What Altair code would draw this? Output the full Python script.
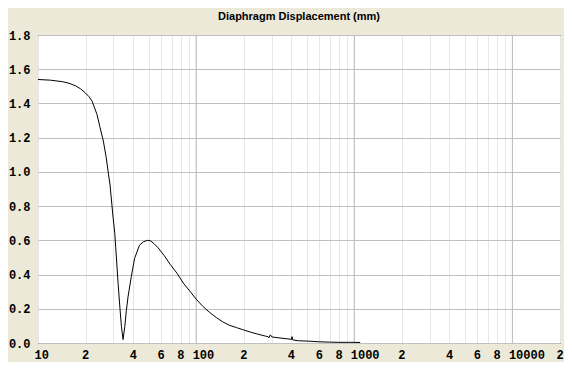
import altair as alt
import pandas as pd

# Frequency (Hz) and diaphragm displacement (mm)
freq = [10, 12, 14.3, 15.7, 17.3, 18.6, 19.9, 21.0, 22.0, 23.6, 24.7, 25.9, 27.0, 27.9, 28.5,
        29.9, 30.6, 31.0, 32.1, 33.0, 33.7, 34.5, 35.4, 36.2, 37.1, 38.9, 40.8,
        43.8, 46.5, 49.4, 51.5, 54.3, 57.5, 62.6, 68.5, 75.9, 83.0, 91.8, 101,
        110, 122, 135, 147, 162, 180, 197, 220, 245, 275, 285, 288, 295, 300,
        320, 349, 380, 400, 404, 408, 443, 510, 600, 700, 800, 950, 1090]
disp = [1.540, 1.536, 1.527, 1.518, 1.503, 1.485, 1.462, 1.440, 1.413, 1.336, 1.258, 1.180, 1.084, 0.987, 0.929,
        0.726, 0.640, 0.560, 0.348, 0.200, 0.097, 0.020, 0.097, 0.190, 0.270, 0.387, 0.494,
        0.571, 0.592, 0.600, 0.597, 0.580, 0.556, 0.513, 0.460, 0.406, 0.350, 0.300, 0.252,
        0.215, 0.178, 0.147, 0.124, 0.104, 0.090, 0.078, 0.064, 0.052, 0.040, 0.037, 0.030, 0.048, 0.036,
        0.032, 0.028, 0.024, 0.021, 0.037, 0.018, 0.013, 0.011, 0.007, 0.005, 0.004, 0.004, 0.003]

tick_values = [10, 20, 30, 40, 50, 60, 70, 80, 90,
               100, 200, 300, 400, 500, 600, 700, 800, 900,
               1000, 2000, 3000, 4000, 5000, 6000, 7000, 8000, 9000,
               10000, 20000]
tick_labels = ["10", "2", "", "4", "", "6", "", "8", "",
               "100", "2", "", "4", "", "6", "", "8", "",
               "1000", "2", "", "4", "", "6", "", "8", "",
               "10000", "2"]
decades = [100, 1000, 10000]
y_ticks = [0, 0.2, 0.4, 0.6, 0.8, 1.0, 1.2, 1.4, 1.6, 1.8]

df = pd.DataFrame({"f": freq, "d": disp})
dec_df = pd.DataFrame({"f": decades})

label_expr = f"{tick_labels}[indexof({tick_values}, datum.value)]"

xscale = alt.Scale(type="log", domain=[10, 20000], nice=False)
yscale = alt.Scale(domain=[0, 1.8], nice=False)

x_axis = alt.Axis(values=tick_values, labelExpr=label_expr, title=None,
                  grid=True, gridColor="#E6E6E6", gridWidth=1,
                  ticks=False, domain=False, labelOverlap=False, labelFlush=False,
                  labelAlign="left", labelOffset=-4, labelPadding=6,
                  labelFont="Liberation Mono", labelFontSize=12, labelFontWeight="bold",
                  labelColor="black")
y_axis = alt.Axis(values=y_ticks, format=".1f", title=None,
                  grid=True, gridColor="#C0C0C0", gridWidth=1,
                  ticks=False, domain=False, labelPadding=8,
                  labelFont="Liberation Mono", labelFontSize=12, labelFontWeight="bold",
                  labelColor="black")

rules = alt.Chart(dec_df).mark_rule(color="#BABABA", strokeWidth=1).encode(
    x=alt.X("f:Q", scale=xscale, axis=x_axis)
)

line = alt.Chart(df).mark_line(color="black", strokeWidth=1, interpolate="linear").encode(
    x=alt.X("f:Q", scale=xscale, axis=x_axis),
    y=alt.Y("d:Q", scale=yscale, axis=y_axis),
)

chart = alt.layer(rules, line).properties(
    width=522,
    height=308,
    autosize=alt.AutoSizeParams(type="none"),
    padding={"left": 30, "top": 27, "right": 4, "bottom": 19},
    background="#ECE9D8",
    title=alt.TitleParams("Diaphragm Displacement (mm)", font="Liberation Sans",
                          fontSize=11, fontWeight="bold", color="black",
                          anchor="middle", offset=7),
).configure_view(fill="white", stroke="black", strokeWidth=1)

chart.save("out.html", embed_options={"renderer": "svg", "actions": False})
